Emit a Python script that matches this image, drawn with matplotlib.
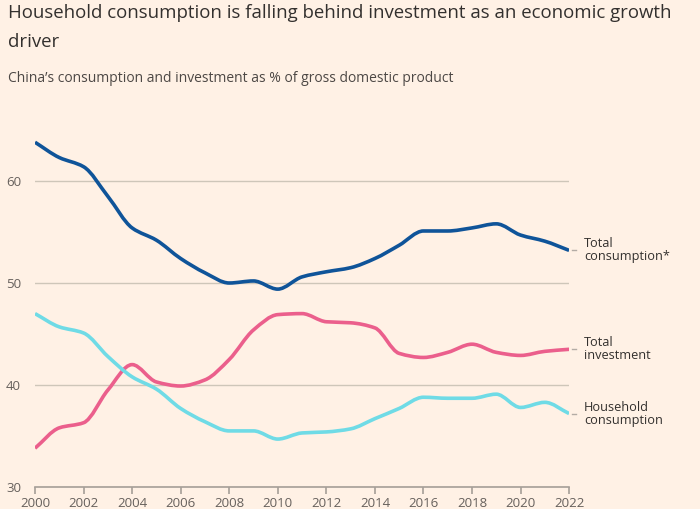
import numpy as np
import matplotlib
matplotlib.use("Agg")
import matplotlib.pyplot as plt
from matplotlib.path import Path
from matplotlib.patches import PathPatch

years = list(range(2000, 2023))
total_consumption = [63.8, 62.3, 61.4, 58.5, 55.4, 54.2, 52.4, 51.0, 50.0, 50.2, 49.4, 50.6,
                     51.1, 51.5, 52.4, 53.7, 55.1, 55.1, 55.4, 55.8, 54.7, 54.1, 53.2]
total_investment = [33.8, 35.8, 36.3, 39.5, 42.0, 40.3, 39.9, 40.5, 42.5, 45.4, 46.9, 47.0,
                    46.2, 46.1, 45.6, 43.1, 42.7, 43.2, 44.0, 43.2, 42.9, 43.3, 43.5]
household_consumption = [47.0, 45.7, 45.1, 42.8, 40.8, 39.6, 37.7, 36.4, 35.5, 35.5, 34.7, 35.3,
                         35.4, 35.7, 36.7, 37.7, 38.8, 38.7, 38.7, 39.1, 37.8, 38.3, 37.2]
series_labels = ["Total\nconsumption*", "Total\ninvestment", "Household\nconsumption"]
colors = ["#0f5499", "#eb5f8c", "#6fdbe6"]

BG = "#fff1e5"
plt.rcParams['font.family'] = ['Open Sans', 'DejaVu Sans']


def smooth_path(x, y):
    # monotone cubic bezier through the data points (like d3 curveMonotoneX)
    x = np.asarray(x, float)
    y = np.asarray(y, float)
    h = np.diff(x)
    d = np.diff(y) / h
    m = np.zeros_like(y)
    m[0], m[-1] = d[0], d[-1]
    for i in range(1, len(y) - 1):
        if d[i - 1] * d[i] <= 0:
            m[i] = 0
        else:
            m[i] = 2 / (1 / d[i - 1] + 1 / d[i])
    verts = [(x[0], y[0])]
    codes = [Path.MOVETO]
    for i in range(len(x) - 1):
        verts += [(x[i] + h[i] / 3, y[i] + m[i] * h[i] / 3),
                  (x[i + 1] - h[i] / 3, y[i + 1] - m[i + 1] * h[i] / 3),
                  (x[i + 1], y[i + 1])]
        codes += [Path.CURVE4] * 3
    return Path(verts, codes)


fig = plt.figure(figsize=(7, 5.09), dpi=100, facecolor=BG)
ax = fig.add_axes([0.05, 0.0432, 0.763, 0.7014])
ax.set_facecolor(BG)

for vals, c in zip([total_consumption, total_investment, household_consumption], colors):
    ax.add_patch(PathPatch(smooth_path(years, vals), facecolor="none", edgecolor=c,
                           lw=2.6, capstyle="butt", joinstyle="round", zorder=3))

ax.set_xlim(2000, 2022)
ax.set_ylim(30, 65)
ax.set_yticks([30, 40, 50, 60])
ax.set_xticks(range(2000, 2023, 2))
for s in ["top", "right", "left"]:
    ax.spines[s].set_visible(False)
ax.spines["bottom"].set_color("#a69f98")
ax.spines["bottom"].set_linewidth(1.2)
ax.grid(axis="y", color="#cec6b9", lw=1)
ax.set_axisbelow(True)
ax.tick_params(axis="x", length=5, width=1.2, color="#a69f98", labelsize=9.5,
               labelcolor="#66605c", pad=2)
ax.tick_params(axis="y", length=0, labelsize=9.5, labelcolor="#66605c", pad=10)

# end labels with small leader ticks
for vals, lab in zip([total_consumption, total_investment, household_consumption], series_labels):
    ax.plot([1.005, 1.013], [vals[-1], vals[-1]], transform=ax.get_yaxis_transform(),
            color="#b3aca5", lw=1, clip_on=False)
    ax.text(1.028, vals[-1], lab, transform=ax.get_yaxis_transform(), fontsize=9.2,
            color="#33302e", va="center", ha="left", linespacing=1.0)

fig.text(0.011, 0.992, "Household consumption is falling behind investment as an economic growth\ndriver",
         fontsize=13.4, color="#33302e", va="top", ha="left", linespacing=1.8)
fig.text(0.011, 0.845, "China’s consumption and investment as % of gross domestic product",
         fontsize=10, color="#4d4845", va="center", ha="left")

fig.savefig("out.png", dpi=100, facecolor=BG)
